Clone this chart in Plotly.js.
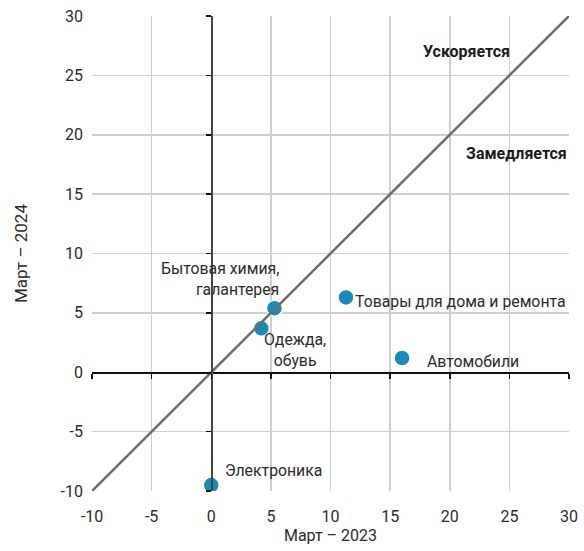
<!DOCTYPE html>
<html>
<head>
<meta charset="utf-8">
<script src="https://cdn.plot.ly/plotly-3.0.1.min.js"></script>
<style>html,body{margin:0;padding:0;background:#fff;}#chart{width:584px;height:551px;}</style>
</head>
<body>
<div id="chart"></div>
<script>
// Data
const categories = ["Электроника", "Одежда,<br>обувь", "Бытовая химия,<br>галантерея", "Товары для дома и ремонта", "Автомобили"];
const march2023 = [0, 4.2, 5.3, 11.3, 16.0];
const march2024 = [-9.5, 3.7, 5.4, 6.3, 1.2];
const diagonal = [-10, 30];
const tickVals = [-10, -5, 0, 5, 10, 15, 20, 25, 30];
const tickText = ["-10", "-5", "0", "5", "10", "15", "20", "25", "30"];
const xTitle = "Март – 2023";
const yTitle = "Март – 2024";
const zoneLabels = ["Ускоряется", "Замедляется"];

// Label placement (style only)
const labelStyle = [
  {xanchor: "left", align: "left", xshift: 12, yshift: 15},
  {xanchor: "center", align: "center", xshift: 34, yshift: -22},
  {xanchor: "right", align: "right", xshift: 7, yshift: 29},
  {xanchor: "left", align: "left", xshift: 7, yshift: -4},
  {xanchor: "left", align: "left", xshift: 23, yshift: -3}
];

const FONT = "Roboto, 'Open Sans', sans-serif";
const TXT = "#2b2b2b";
const range = [-10, 30];
const zeroPos = (0 - range[0]) / (range[1] - range[0]);

const traces = [
  {
    x: diagonal, y: diagonal, mode: "lines", xaxis: "x2", yaxis: "y2",
    line: {color: "#6d6d6d", width: 2.5}, hoverinfo: "skip", showlegend: false
  },
  {
    x: march2023, y: march2024, mode: "markers", type: "scatter",
    marker: {color: "#1b8ab4", size: 16, line: {color: "#ffffff", width: 1.5}},
    showlegend: false
  }
];

const annotations = categories.map((c, i) => Object.assign({
  x: march2023[i], y: march2024[i], xref: "x", yref: "y", text: c,
  showarrow: false, yanchor: "middle",
  font: {family: FONT, size: 15.8, color: TXT}
}, labelStyle[i]));

annotations.push({x: 21.4, y: 27.0, xref: "x", yref: "y", text: "<b>" + zoneLabels[0] + "</b>",
  showarrow: false, font: {family: FONT, size: 16, color: "#1a1a1a"}});
annotations.push({x: 25.6, y: 18.4, xref: "x", yref: "y", text: "<b>" + zoneLabels[1] + "</b>",
  showarrow: false, font: {family: FONT, size: 16, color: "#1a1a1a"}});

const layout = {
  width: 584, height: 551,
  margin: {l: 92, r: 15, t: 16, b: 60, pad: 0},
  paper_bgcolor: "#fff", plot_bgcolor: "#fff",
  font: {family: FONT, size: 15, color: TXT},
  xaxis: {
    range: range, tickvals: tickVals, ticktext: tickText, showgrid: true, gridcolor: "#cfcfcf", gridwidth: 1.5,
    zeroline: false, showline: false, ticks: "", tickfont: {family: FONT, size: 16, color: TXT},
    ticklabelstandoff: 14,
    title: {text: xTitle, font: {family: FONT, size: 16, color: TXT}, standoff: 2},
    fixedrange: true
  },
  yaxis: {
    range: range, tickvals: tickVals, ticktext: tickText, showgrid: true, gridcolor: "#cfcfcf", gridwidth: 1.5,
    zeroline: false, showline: false, ticks: "", tickfont: {family: FONT, size: 16, color: TXT},
    ticklabelstandoff: 8,
    title: {text: yTitle, font: {family: FONT, size: 17, color: TXT}, standoff: 28},
    fixedrange: true
  },
  xaxis2: {
    range: range, overlaying: "x", anchor: "free", position: zeroPos, side: "bottom",
    tickvals: tickVals, showticklabels: false, showgrid: false, zeroline: false,
    showline: true, linecolor: "#111", linewidth: 1.5, ticks: "outside", ticklen: 5,
    tickcolor: "#111", tickwidth: 1.5
  },
  yaxis2: {
    range: range, overlaying: "y", anchor: "free", position: zeroPos, side: "left",
    tickvals: tickVals, showticklabels: false, showgrid: false, zeroline: false,
    showline: true, linecolor: "#444", linewidth: 1.5, ticks: "outside", ticklen: 5,
    tickcolor: "#111", tickwidth: 1.5
  },
  annotations: annotations
};

Plotly.newPlot("chart", traces, layout, {displayModeBar: false, staticPlot: true});
</script>
</body>
</html>
